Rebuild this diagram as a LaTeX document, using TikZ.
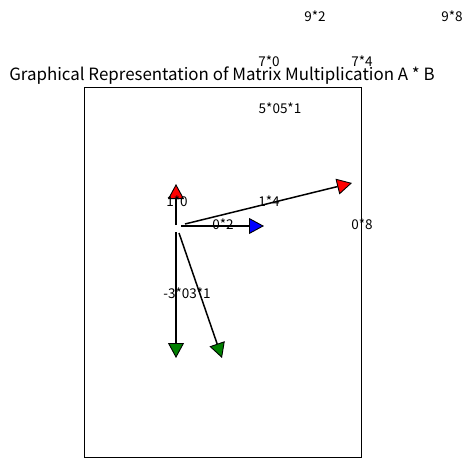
\documentclass[tikz,border=0pt]{standalone}
\usepackage{fontspec}
\setmainfont{Noto Sans CJK KR}
\usetikzlibrary{arrows.meta}
\tikzset{
  lbl/.style={inner sep=0pt, font=\fontsize{13.5}{15}\selectfont},
  vec/.style={line width=1.5pt, draw=black},
  tipred/.style={-{Triangle[length=15pt,width=16pt,fill=red,line width=0.9pt]}},
  tipblue/.style={-{Triangle[length=15pt,width=16pt,fill=blue,line width=0.9pt]}},
  tipgreen/.style={-{Triangle[length=15pt,width=16pt,fill=green!50!black,line width=0.9pt]}},
}
\begin{document}
\begin{tikzpicture}[x=1pt,y=-1pt]
\useasboundingbox (0,0) rectangle (476,468);
\draw[line width=1pt] (84.5,88) rectangle (361,457.5);
\node[inner sep=0pt, font=\fontsize{16.9}{18}\selectfont] (title) at (222,76) {Graphical Representation of Matrix Multiplication A * B};
\coordinate (o1) at (176,225);
\coordinate (e1) at (176,184);
\coordinate (o2) at (185,224);
\coordinate (e2) at (352,183);
\coordinate (o3) at (181,226);
\coordinate (e3) at (264,226);
\coordinate (o4) at (176,232);
\coordinate (e4) at (176,358);
\coordinate (o5) at (179,233);
\coordinate (e5) at (222,358);
\draw[vec,tipred] (o1) -- (e1);
\draw[vec,tipred] (o2) -- (e2);
\draw[vec,tipblue] (o3) -- (e3);
\draw[vec,tipgreen] (o4) -- (e4);
\draw[vec,tipgreen] (o5) -- (e5);
\node[lbl] (t1) at (315,16) {9*2};
\node[lbl] (t2) at (452,16) {9*8};
\node[lbl] (t3) at (269,61) {7*0};
\node[lbl] (t4) at (362,61) {7*4};
\node[lbl] (t5) at (280,108) {5*05*1};
\node[lbl] (t6) at (177,201) {1*0};
\node[lbl] (t7) at (269,201) {1*4};
\node[lbl] (t8) at (223,224) {0*2};
\node[lbl] (t9) at (362,224) {0*8};
\node[lbl] (t10) at (187,293) {-3*03*1};
\end{tikzpicture}
\end{document}
